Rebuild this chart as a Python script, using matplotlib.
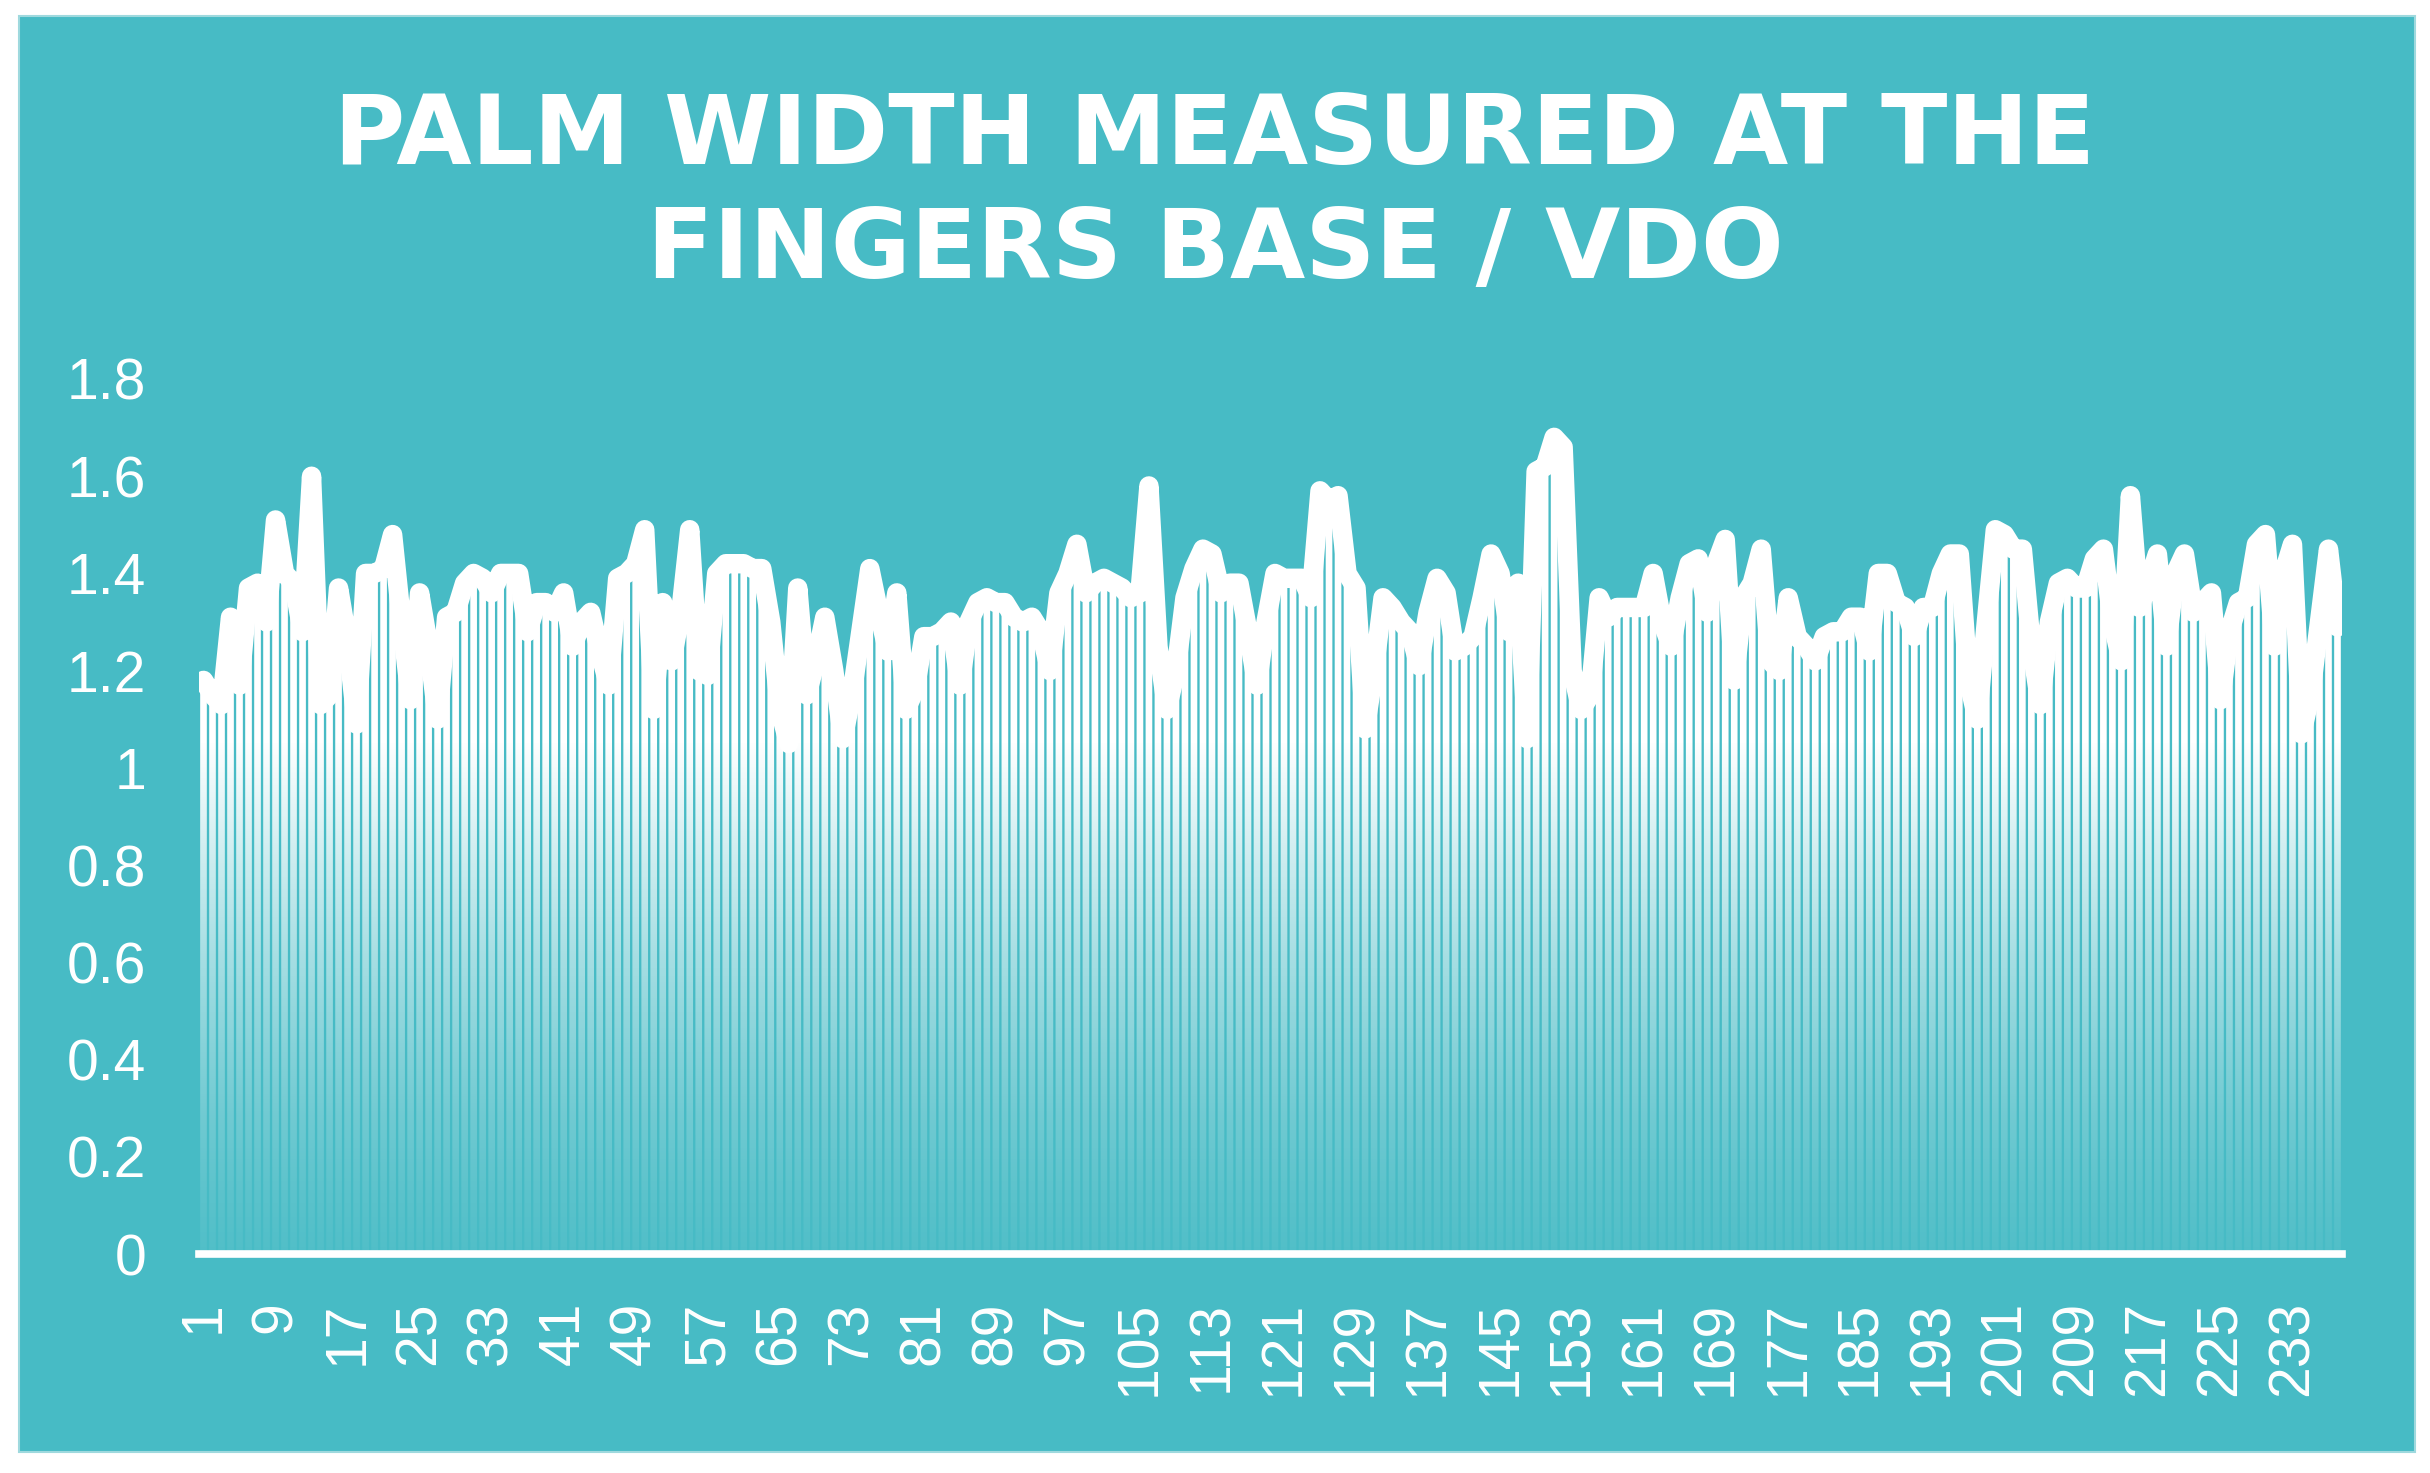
import numpy as np
import matplotlib
matplotlib.use('Agg')
import matplotlib.pyplot as plt
from matplotlib.patches import Rectangle, PathPatch
from matplotlib.path import Path

# palm width / VDO ratio for each of the 238 samples
values = [
    1.18, 1.15, 1.13, 1.31, 1.17, 1.37, 1.38, 1.30, 1.51, 1.40,
    1.38, 1.28, 1.60, 1.13, 1.15, 1.37, 1.26, 1.09, 1.40, 1.40,
    1.41, 1.48, 1.30, 1.14, 1.36, 1.25, 1.10, 1.31, 1.32, 1.38,
    1.40, 1.39, 1.36, 1.40, 1.40, 1.40, 1.28, 1.34, 1.34, 1.32,
    1.36, 1.25, 1.30, 1.32, 1.24, 1.17, 1.39, 1.40, 1.42, 1.49,
    1.12, 1.34, 1.22, 1.32, 1.49, 1.20, 1.19, 1.40, 1.42, 1.42,
    1.42, 1.41, 1.41, 1.30, 1.12, 1.05, 1.37, 1.15, 1.22, 1.31,
    1.20, 1.06, 1.15, 1.28, 1.41, 1.32, 1.24, 1.36, 1.12, 1.16,
    1.27, 1.27, 1.28, 1.30, 1.17, 1.30, 1.34, 1.35, 1.34, 1.34,
    1.31, 1.30, 1.31, 1.28, 1.20, 1.36, 1.40, 1.46, 1.36, 1.38,
    1.39, 1.38, 1.37, 1.35, 1.36, 1.58, 1.25, 1.12, 1.20, 1.35,
    1.41, 1.45, 1.44, 1.36, 1.38, 1.38, 1.28, 1.17, 1.30, 1.40,
    1.39, 1.39, 1.39, 1.35, 1.57, 1.55, 1.56, 1.40, 1.37, 1.08,
    1.20, 1.35, 1.33, 1.30, 1.28, 1.21, 1.32, 1.39, 1.36, 1.24,
    1.25, 1.27, 1.35, 1.44, 1.40, 1.28, 1.38, 1.06, 1.61, 1.62,
    1.68, 1.66, 1.20, 1.12, 1.15, 1.35, 1.31, 1.33, 1.33, 1.33,
    1.33, 1.40, 1.30, 1.25, 1.35, 1.42, 1.43, 1.32, 1.42, 1.47,
    1.18, 1.35, 1.38, 1.45, 1.22, 1.20, 1.35, 1.27, 1.25, 1.22,
    1.27, 1.28, 1.28, 1.31, 1.31, 1.24, 1.40, 1.40, 1.34, 1.33,
    1.27, 1.33, 1.33, 1.40, 1.44, 1.44, 1.18, 1.10, 1.30, 1.49,
    1.48, 1.45, 1.45, 1.25, 1.13, 1.30, 1.38, 1.39, 1.37, 1.37,
    1.43, 1.45, 1.30, 1.22, 1.56, 1.33, 1.38, 1.44, 1.25, 1.40,
    1.44, 1.32, 1.34, 1.36, 1.14, 1.28, 1.34, 1.35, 1.46, 1.48,
    1.25, 1.40, 1.46, 1.07, 1.15, 1.30, 1.45, 1.29,
]
samples = list(range(1, len(values) + 1))
x_ticks = samples[::8]
y_ticks = [0, 0.2, 0.4, 0.6, 0.8, 1.0, 1.2, 1.4, 1.6, 1.8]
y_labels = ['0', '0.2', '0.4', '0.6', '0.8', '1', '1.2', '1.4', '1.6', '1.8']
title_lines = ['PALM WIDTH MEASURED AT THE', 'FINGERS BASE / VDO']

teal = '#47bbc5'
W, H = 2430, 1473

fig = plt.figure(figsize=(W / 100, H / 100), dpi=100)
fig.patch.set_facecolor('white')

# teal panel behind everything
fig.patches.append(Rectangle((19 / W, 1 - 1452 / H), (2415 - 19) / W, (1452 - 16) / H,
                             transform=fig.transFigure, facecolor=teal,
                             edgecolor='#9fd9de', lw=1.5, zorder=-5))

ax = fig.add_axes([199 / W, 1 - 1254 / H, (2342 - 199) / W, (1254 - 379) / H])
ax.set_facecolor('none')
ax.set_zorder(2)

# columns: white fading to teal toward the axis
bars = ax.bar(samples, values, width=0.74, color='none', edgecolor='none')
paths = [b.get_path().transformed(b.get_patch_transform()) for b in bars]
clip = PathPatch(Path.make_compound_path(*paths), transform=ax.transData,
                 facecolor='none', edgecolor='none')
ax.add_patch(clip)
yy = np.linspace(0, 1.8, 400)
alpha = np.clip(0.06 + 0.94 * (yy / 1.05) ** 1.3, 0, 1)
grad = np.ones((400, 1, 4))
grad[:, 0, 3] = alpha
im = ax.imshow(grad, extent=[0.5, len(values) + 0.5, 0, 1.8], origin='lower',
               aspect='auto', interpolation='bilinear', zorder=1)
im.set_clip_path(clip)

# thick white line on top
ax.plot(samples, values, color='white', lw=14, solid_joinstyle='round',
        solid_capstyle='round', zorder=3)

ax.set_xlim(0.5, len(values) + 0.5)
ax.set_ylim(0, 1.8)
ax.set_xticks(x_ticks)
ax.set_xticklabels([str(t) for t in x_ticks], rotation=90)
ax.set_yticks(y_ticks)
ax.set_yticklabels(y_labels)
ax.tick_params(axis='x', length=0, pad=34, labelsize=41, labelcolor='white')
ax.tick_params(axis='y', length=0, pad=38, labelsize=41, labelcolor='white')
for lab in ax.get_xticklabels() + ax.get_yticklabels():
    lab.set_family('Liberation Sans')

for side in ['top', 'right', 'left']:
    ax.spines[side].set_visible(False)
ax.spines['bottom'].set_color('white')
ax.spines['bottom'].set_linewidth(5.5)
ax.spines['bottom'].set_zorder(4)

# two-line title
fig.text(0.5, 1 - 164 / H, title_lines[0], ha='center', va='baseline',
         fontsize=70, fontweight='bold', color='white', family='DejaVu Sans')
fig.text(0.5, 1 - 278 / H, title_lines[1], ha='center', va='baseline',
         fontsize=70, fontweight='bold', color='white', family='DejaVu Sans')

fig.savefig('out.png', dpi=100, facecolor=fig.get_facecolor())
